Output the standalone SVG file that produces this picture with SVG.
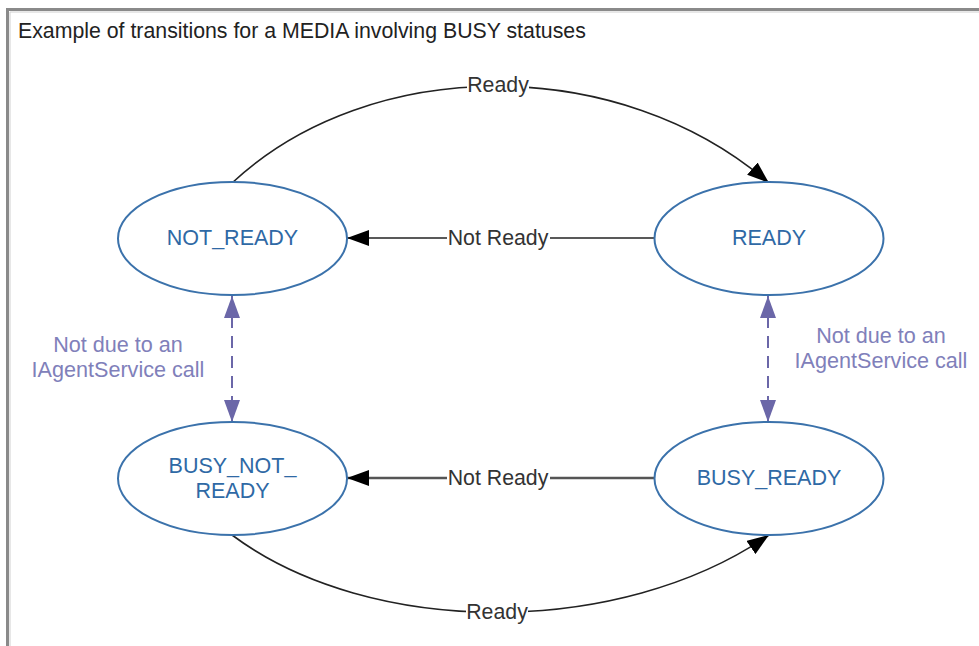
<svg xmlns="http://www.w3.org/2000/svg" width="979" height="646" viewBox="0 0 979 646">
<style>
.frame{stroke:#8a8a8a;stroke-width:3;fill:none}
.frame2{stroke:#d0d0d0;stroke-width:1;fill:none}
.title{font-family:"Liberation Sans",Arial,sans-serif;font-size:21.3px;fill:#222}
.node ellipse{fill:#fff;stroke:#3b72ab;stroke-width:2}
.node text{font-family:"Liberation Sans",Arial,sans-serif;font-size:21.5px;fill:#2f69a5;text-anchor:middle}
.edge{fill:none;stroke:#222;stroke-width:1.6}
.edge2{fill:none;stroke:#555;stroke-width:2.4}
.dash{fill:none;stroke:#6b67a8;stroke-width:2;stroke-dasharray:12 8}
.bg{fill:#fff}
.lbl{font-family:"Liberation Sans",Arial,sans-serif;font-size:21.3px;fill:#333;text-anchor:middle}
.plbl{font-family:"Liberation Sans",Arial,sans-serif;font-size:21.6px;fill:#8080ba;text-anchor:middle}
</style>
<defs>
<marker id="ab" markerUnits="userSpaceOnUse" markerWidth="22" markerHeight="16" refX="22" refY="8" orient="auto">
<path d="M0,0 L22,8 L0,16 z" fill="#000"/>
</marker>
<marker id="ap" markerUnits="userSpaceOnUse" markerWidth="22" markerHeight="16" refX="22" refY="8" orient="auto-start-reverse">
<path d="M0,0 L22,8 L0,16 z" fill="#6b67a8"/>
</marker>
</defs>
<rect width="979" height="646" fill="#fff"/>
<path class="frame2" d="M10,646 V12 H979"/>
<path class="frame" d="M7.5,646 V9.5 H979"/>
<text class="title" x="18" y="38">Example of transitions for a MEDIA involving BUSY statuses</text>
<g id="connectors">
<path class="edge" d="M232,183 C370,54 620,54 769,183" marker-end="url(#ab)"/>
<path class="edge" d="M655,238 H347" marker-end="url(#ab)"/>
<path class="edge2" d="M655,478 H347" marker-end="url(#ab)"/>
<path class="edge" d="M232,535 C370,638 620,638 769,535" marker-end="url(#ab)"/>
<path class="dash" d="M232,296 V422" marker-start="url(#ap)" marker-end="url(#ap)"/>
<path class="dash" d="M768,296 V422" marker-start="url(#ap)" marker-end="url(#ap)"/>
<rect class="bg" x="467" y="74" width="62" height="22"/>
<rect class="bg" x="447" y="227" width="103" height="22"/>
<rect class="bg" x="447" y="467" width="103" height="22"/>
<rect class="bg" x="466" y="601" width="62" height="22"/>
<text class="lbl" x="498" y="92">Ready</text>
<text class="lbl" x="498" y="245">Not Ready</text>
<text class="lbl" x="498" y="485">Not Ready</text>
<text class="lbl" x="497" y="619">Ready</text>
<text class="plbl" x="118" y="352">Not due to an</text>
<text class="plbl" x="118" y="377">IAgentService call</text>
<text class="plbl" x="881" y="343">Not due to an</text>
<text class="plbl" x="881" y="368">IAgentService call</text>
</g>
<g id="NOT_READY" class="node">
<ellipse cx="232.5" cy="238.5" rx="114.5" ry="56.5"/>
<text x="232.5" y="245">NOT_READY</text>
</g>
<g id="READY" class="node">
<ellipse cx="769" cy="238.5" rx="114.5" ry="56.5"/>
<text x="769" y="245">READY</text>
</g>
<g id="BUSY_NOT_READY" class="node">
<ellipse cx="232.5" cy="478.5" rx="114.5" ry="56.5"/>
<text x="232.5" y="473">BUSY_NOT_</text>
<text x="232.5" y="498">READY</text>
</g>
<g id="BUSY_READY" class="node">
<ellipse cx="769" cy="478.5" rx="114.5" ry="56.5"/>
<text x="769" y="485">BUSY_READY</text>
</g>
</svg>
